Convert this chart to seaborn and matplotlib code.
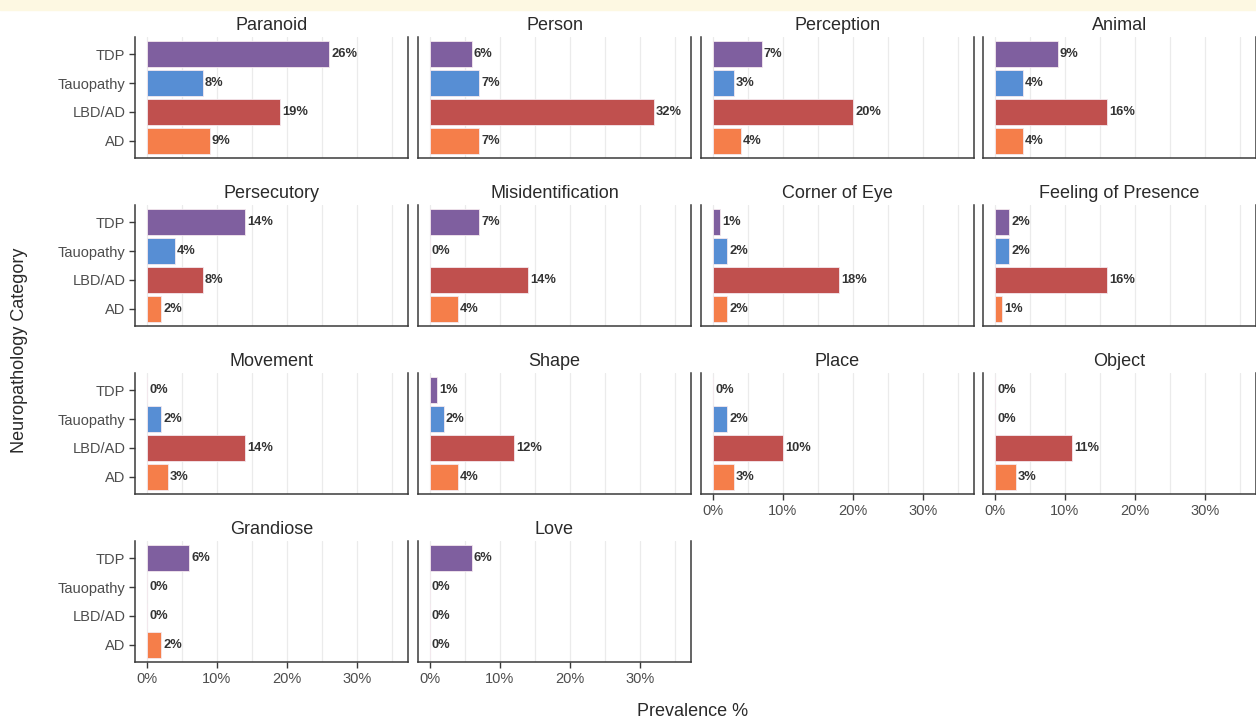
import numpy as np
import pandas as pd
import matplotlib
matplotlib.use("Agg")
from matplotlib import pyplot as plt
from matplotlib.patches import Rectangle
import seaborn as sns

# data
categories = ['TDP', 'Tauopathy', 'LBD/AD', 'AD']
panels = ['Paranoid', 'Person', 'Perception', 'Animal',
          'Persecutory', 'Misidentification', 'Corner of Eye', 'Feeling of Presence',
          'Movement', 'Shape', 'Place', 'Object',
          'Grandiose', 'Love']
tdp = [26, 6, 7, 9, 14, 7, 1, 2, 0, 1, 0, 0, 6, 6]
tau = [8, 7, 3, 4, 4, 0, 2, 2, 2, 2, 2, 0, 0, 0]
lbd = [19, 32, 20, 16, 8, 14, 18, 16, 14, 12, 10, 11, 0, 0]
ad = [9, 7, 4, 4, 2, 4, 2, 1, 3, 4, 3, 3, 2, 0]
colors = ['#7f5f9f', '#578ed4', '#c0504e', '#f57e4a']
xticks = [0, 10, 20, 30]

rows = []
for i, p in enumerate(panels):
    for c, vals in zip(categories, [tdp, tau, lbd, ad]):
        rows.append({'panel': p, 'category': c, 'value': vals[i]})
df = pd.DataFrame(rows)

sns.set_theme(style='white')
plt.rcParams['font.family'] = ['Liberation Sans', 'DejaVu Sans']

W, H = 1256, 724
fig = plt.figure(figsize=(W / 100, H / 100), dpi=100)
fig.patches.append(Rectangle((0, 1 - 10 / H), 1, 10 / H, transform=fig.transFigure,
                             color='#fdf8e2', zorder=-10))

col_left = [135, 418, 701, 983]
row_top = [37, 205, 373, 541]
pw, ph = 273, 121
grey = '#3a3a3a'
bottom_panels = {'Place', 'Object', 'Grandiose', 'Love'}

for i, p in enumerate(panels):
    r, c = divmod(i, 4)
    ax = fig.add_axes([col_left[c] / W, 1 - (row_top[r] + ph) / H, pw / W, ph / H])
    d = df[df['panel'] == p]
    sns.barplot(data=d, x='value', y='category', hue='category', order=categories,
                hue_order=categories, palette=colors, legend=False, width=0.9,
                saturation=1, linewidth=0.6, edgecolor='#f4e8ee', ax=ax)
    ax.set_xlim(-1.7, 37.3)
    ax.set_ylim(3.6, -0.6)
    for v in range(0, 40, 5):
        ax.axvline(v, color='#ebebeb', lw=0.9, zorder=0)
    ax.set_axisbelow(True)
    for k, v in enumerate(d['value']):
        ax.text(v + 0.3, k, f'{v}%', va='center', ha='left', fontsize=9.3,
                fontweight='bold', color='#333333')
    ax.set_title(p, fontsize=13, color='#2a2a2a', pad=5)
    ax.set_xlabel('')
    ax.set_ylabel('')
    for s in ['left', 'bottom', 'right']:
        ax.spines[s].set_color(grey)
        ax.spines[s].set_linewidth(1.1)
    ax.spines['top'].set_visible(False)
    if p in bottom_panels:
        ax.set_xticks(xticks)
        ax.set_xticklabels([f'{t}%' for t in xticks])
        ax.tick_params(axis='x', length=4, width=1, color=grey, labelsize=10.5,
                       labelcolor='#4d4d4d', pad=3, bottom=True)
    else:
        ax.set_xticks([])
    if c == 0:
        ax.tick_params(axis='y', length=4, width=1, color=grey, labelsize=10.5,
                       labelcolor='#4d4d4d', pad=3, left=True)
    else:
        ax.set_yticks([])

fig.text(693 / W, 1 - 712 / H, 'Prevalence %', ha='center', va='center',
         fontsize=13, color='#2a2a2a')
fig.text(20 / W, 1 - 350 / H, 'Neuropathology Category', ha='center', va='center',
         rotation=90, fontsize=13, color='#2a2a2a')

fig.savefig('out.png', dpi=100)
